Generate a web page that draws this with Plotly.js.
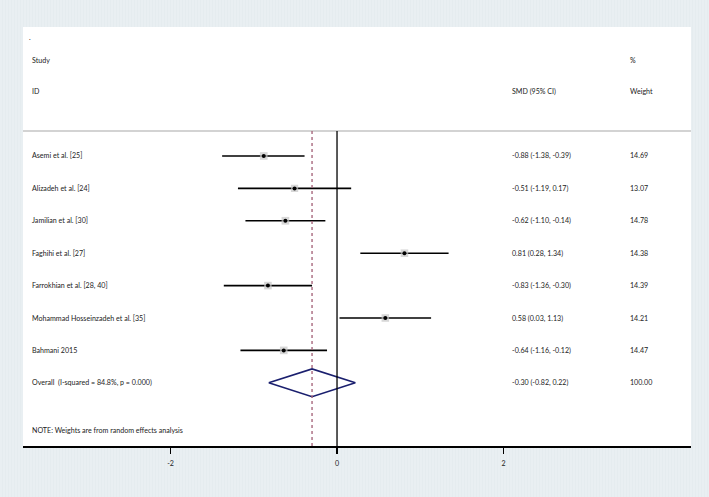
<!DOCTYPE html>
<html>
<head>
<meta charset="utf-8">
<script src="https://cdn.plot.ly/plotly-3.0.1.min.js"></script>
<style>
html,body{margin:0;padding:0;}
body{width:709px;height:497px;background:#e8eef1;background-image:repeating-linear-gradient(90deg,#e9eff2 0px,#e9eff2 2px,#e5ecef 2px,#e5ecef 3px);}
#chart{width:709px;height:497px;}
</style>
</head>
<body>
<div id="chart"></div>
<script>
// ---- data ----
var studies = ["Asemi et al. [25]", "Alizadeh et al. [24]", "Jamilian et al. [30]", "Faghihi et al. [27]",
  "Farrokhian et al. [28, 40]", "Mohammad Hosseinzadeh et al. [35]", "Bahmani 2015"];
var smd    = [-0.88, -0.51, -0.62, 0.81, -0.83, 0.58, -0.64];
var ciLow  = [-1.38, -1.19, -1.10, 0.28, -1.36, 0.03, -1.16];
var ciHigh = [-0.39,  0.17, -0.14, 1.34, -0.30, 1.13, -0.12];
var weights = [14.69, 13.07, 14.78, 14.38, 14.39, 14.21, 14.47];
var overallLabel = "Overall  (I-squared = 84.8%, p = 0.000)";
var overallEst = -0.30, overallLow = -0.82, overallHigh = 0.22, overallWeight = 100.00;
var noteText = "NOTE: Weights are from random effects analysis";
var tickVals = [-2, 0, 2];
var tickText = ["-2", "0", "2"];

// ---- build ----
var FONT = "Lato, 'Open Sans', sans-serif";
var fsz = 7.1;
var txtCol = "#222";
var rows = studies.map(function(_, i){ return i; });
var overallRow = studies.length;
var fmt = function(v){ return v.toFixed(2); };

var traces = [];
traces.push({
  x: smd, y: rows, type: "scatter", mode: "markers",
  marker: {symbol: "square", size: weights.map(function(w){ return Math.sqrt(w) * 2.0; }), color: "#c6c6c6", line: {width: 0}},
  error_x: {type: "data", symmetric: false,
    array: smd.map(function(v, i){ return ciHigh[i] - v; }),
    arrayminus: smd.map(function(v, i){ return v - ciLow[i]; }),
    color: "#000", thickness: 1.6, width: 0},
  hoverinfo: "skip", showlegend: false
});
traces.push({
  x: smd, y: rows, type: "scatter", mode: "markers",
  marker: {symbol: "circle", size: 4, color: "#000"},
  hoverinfo: "skip", showlegend: false
});
var dh = 0.43;
traces.push({
  x: [overallLow, overallEst, overallHigh, overallEst, overallLow],
  y: [overallRow, overallRow - dh, overallRow, overallRow + dh, overallRow],
  type: "scatter", mode: "lines", line: {color: "#1a1f6e", width: 1.6},
  hoverinfo: "skip", showlegend: false
});

var yTop = -3.98, yBot = 8.95;
var sepY = -0.77;
var annotations = [];
function ann(text, xp, y, anchor){
  annotations.push({text: text, xref: "paper", x: xp, yref: "y", y: y, xanchor: anchor || "left", yanchor: "middle",
    showarrow: false, font: {family: FONT, size: fsz, color: txtCol}});
}
var xLab = 7/668, xSmd = (510-23)/668, xW = (627.5-23)/668;
ann(".", 4/668, -3.67);
ann("Study", xLab, -2.96);
ann("ID", xLab, -1.98);
ann("%", xW, -2.96);
ann("SMD (95% CI)", xSmd, -1.98);
ann("Weight", xW, -1.98);
studies.forEach(function(s, i){
  ann(s, xLab, i);
  ann(fmt(smd[i]) + " (" + fmt(ciLow[i]) + ", " + fmt(ciHigh[i]) + ")", xSmd, i);
  ann(fmt(weights[i]), xW, i);
});
ann(overallLabel, xLab, overallRow);
ann(fmt(overallEst) + " (" + fmt(overallLow) + ", " + fmt(overallHigh) + ")", xSmd, overallRow);
ann(fmt(overallWeight), xW, overallRow);
ann(noteText, xLab, 8.48);

var shapes = [
  {type: "line", xref: "paper", x0: 0, x1: 1, yref: "y", y0: sepY, y1: sepY, line: {color: "#c4c4c4", width: 1.6}},
  {type: "line", xref: "x", x0: 0, x1: 0, yref: "y", y0: sepY, y1: yBot, line: {color: "#000", width: 1.3}},
  {type: "line", xref: "x", x0: overallEst, x1: overallEst, yref: "y", y0: sepY, y1: yBot, line: {color: "#a8687e", width: 1.4, dash: "3px,3px"}}
];

var layout = {
  width: 709, height: 497,
  margin: {l: 23, r: 18, t: 27, b: 51},
  paper_bgcolor: "rgba(0,0,0,0)",
  plot_bgcolor: "#ffffff",
  xaxis: {range: [-3.772, 4.252], tickvals: tickVals, ticktext: tickText, showgrid: false, zeroline: false,
    showline: true, linecolor: "#000", linewidth: 1.5, ticks: "outside", ticklen: 6, tickwidth: 1.3, tickcolor: "#000",
    ticklabelstandoff: 4,
    tickfont: {family: FONT, size: fsz, color: txtCol}, fixedrange: true},
  yaxis: {range: [yBot, yTop], showgrid: false, zeroline: false, showticklabels: false, showline: false, ticks: "", fixedrange: true},
  shapes: shapes,
  annotations: annotations,
  showlegend: false
};
Plotly.newPlot("chart", traces, layout, {displayModeBar: false, staticPlot: true});
</script>
</body>
</html>
